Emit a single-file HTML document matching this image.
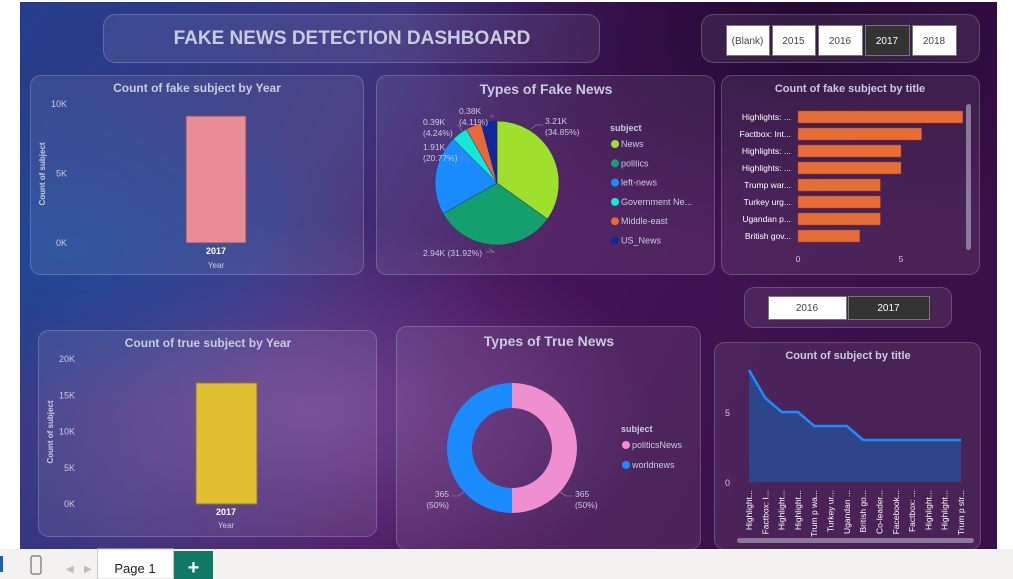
<!DOCTYPE html>
<html><head><meta charset="utf-8">
<style>
html,body{margin:0;padding:0;width:1013px;height:579px;overflow:hidden;background:#fff;font-family:"Liberation Sans",sans-serif;}
svg text{font-family:"Liberation Sans",sans-serif;}
</style></head>
<body>
<svg id="s" width="1013" height="579" viewBox="0 0 1013 579" xmlns="http://www.w3.org/2000/svg">
<defs>
<linearGradient id="bg" x1="0" y1="0" x2="1" y2="0.3">
<stop offset="0" stop-color="#243e8c"/><stop offset="0.35" stop-color="#3b3580"/><stop offset="0.6" stop-color="#45145a"/><stop offset="1" stop-color="#3a1048"/>
</linearGradient>
<radialGradient id="g1" cx="0.3" cy="0.75" r="0.35"><stop offset="0" stop-color="#7a4a9a" stop-opacity="0.8"/><stop offset="1" stop-color="#7a4a9a" stop-opacity="0"/></radialGradient>
<radialGradient id="g2" cx="0.8" cy="0.05" r="0.4"><stop offset="0" stop-color="#220833" stop-opacity="0.95"/><stop offset="1" stop-color="#220833" stop-opacity="0"/></radialGradient>
<radialGradient id="g3" cx="0.05" cy="0.45" r="0.3"><stop offset="0" stop-color="#1f4a9a" stop-opacity="0.9"/><stop offset="1" stop-color="#1f4a9a" stop-opacity="0"/></radialGradient>
</defs>
<rect x="20" y="2" width="977" height="547" fill="url(#bg)"/>
<rect x="20" y="2" width="977" height="547" fill="url(#g1)"/>
<rect x="20" y="2" width="977" height="547" fill="url(#g2)"/>
<rect x="20" y="2" width="977" height="547" fill="url(#g3)"/>
<g fill="rgba(255,255,255,0.08)" stroke="rgba(255,255,255,0.22)" stroke-width="1">
<rect x="103.5" y="14.5" width="496" height="48" rx="12"/>
<rect x="701.5" y="14.5" width="278" height="48" rx="12"/>
<rect x="30.5" y="75.5" width="333" height="199" rx="10"/>
<rect x="376.5" y="75.5" width="338" height="199" rx="10"/>
<rect x="721.5" y="75.5" width="258" height="199" rx="10"/>
<rect x="744.5" y="287.5" width="207" height="40" rx="10"/>
<rect x="38.5" y="330.5" width="338" height="206" rx="10"/>
<rect x="396.5" y="326.5" width="304" height="223" rx="10"/>
<rect x="714.5" y="342.5" width="266" height="207" rx="10"/>
</g>
<text x="352" y="44" text-anchor="middle" font-size="19" font-weight="bold" fill="#c9cbe0">FAKE NEWS DETECTION DASHBOARD</text>
<g id="sl1" font-size="10" text-anchor="middle"></g>
<g id="c1"></g><g id="c2"></g><g id="c3"></g><g id="c4"></g><g id="c5"></g><g id="c6"></g>
<rect x="0" y="549" width="1013" height="30" fill="#f3f2f1"/>
<rect x="0" y="556" width="3" height="16" fill="#1a5fb4"/>
<rect x="31" y="556" width="10" height="18" rx="2" fill="none" stroke="#555"/>
<text x="66" y="572" font-size="10" fill="#bbb">◀</text>
<text x="84" y="572" font-size="10" fill="#bbb">▶</text>
<rect x="97.5" y="549" width="76" height="30" fill="#fff" stroke="#ccc"/>
<text x="135" y="573" text-anchor="middle" font-size="13" fill="#222">Page 1</text>
<rect x="174" y="551" width="39" height="28" fill="#117865"/>
<text x="193.5" y="574" text-anchor="middle" font-size="20" font-weight="bold" fill="#fff">+</text>
</svg>
<script>
const NS="http://www.w3.org/2000/svg";
function mk(p,t,a,txt){const e=document.createElementNS(NS,t);for(const k in a)e.setAttribute(k,a[k]);if(txt!==undefined)e.textContent=txt;p.appendChild(e);return e;}
const W="#c9cbe0";
const years1=["(Blank)","2015","2016","2017","2018"];
const sel1="2017";
const years2=["2016","2017"];
const sel2="2017";
const sl=document.getElementById('sl1');
const bx1=[726,772,818,865,912],bw1=[43,43,44,44,44];
years1.forEach((y,i)=>{const on=y===sel1;
 const r=mk(sl,'rect',{x:bx1[i]+.5,y:25.5,width:bw1[i],height:30,fill:on?'#333':'#fff',stroke:'#777'});
 
 
 mk(sl,'text',{x:bx1[i]+bw1[i]/2,y:44,fill:on?'#fff':'#444'},y);});
const bx2=[768,848],bw2=[78,81];
years2.forEach((y,i)=>{const on=y===sel2;
 const r=mk(sl,'rect',{x:bx2[i]+.5,y:296.5,width:bw2[i],height:23,fill:on?'#333':'#fff',stroke:'#777'});
 
 
 mk(sl,'text',{x:bx2[i]+bw2[i]/2,y:311,fill:on?'#fff':'#444'},y);});

const fakeYears=["2017"];
const fakeCounts=[9140];
const fakeTicks=[0,5000,10000];
const fakeTickLabels=["0K","5K","10K"];
(function(){const g=document.getElementById('c1');
 mk(g,'text',{x:197,y:92,'text-anchor':'middle','font-size':12,'font-weight':'bold',fill:W},'Count of fake subject by Year');
 const y=v=>243-v/10000*139;
 fakeTicks.forEach((t,i)=>mk(g,'text',{x:67,y:y(t)+3,'text-anchor':'end','font-size':9,fill:W},fakeTickLabels[i]));
 mk(g,'text',{x:0,y:0,transform:'translate(45,174) rotate(-90)','text-anchor':'middle','font-size':8,'font-weight':'bold',fill:W},'Count of subject');
 fakeCounts.forEach((v,i)=>{const b=mk(g,'rect',{x:186,y:y(v),width:60,height:243-y(v),fill:'#e88d95',stroke:'#7a4a6a'});
  
  
  mk(g,'text',{x:216,y:254,'text-anchor':'middle','font-size':9,'font-weight':'bold',fill:'#fff'},fakeYears[i]);});
 mk(g,'text',{x:216,y:268,'text-anchor':'middle','font-size':8,fill:W},'Year');
})();

const pieLabels=["News","politics","left-news","Government Ne...","Middle-east","US_News"];
const pieValues=[3210,2940,1910,390,380,380];
const pieText=["3.21K\n(34.85%)","2.94K (31.92%)","1.91K\n(20.77%)","0.39K\n(4.24%)","0.38K\n(4.11%)",""];
const pieColors=["#9fe02e","#13a06e","#1a8cff","#12e8d8","#e8683a","#12289a"];
(function(){const g=document.getElementById('c2');
 mk(g,'text',{x:546,y:94,'text-anchor':'middle','font-size':14,'font-weight':'bold',fill:W},'Types of Fake News');
 const cx=497,cy=183,r=62;const tot=pieValues.reduce((a,b)=>a+b,0);let a0=-Math.PI/2;
 pieValues.forEach((v,i)=>{const a1=a0+v/tot*2*Math.PI;
  const p=`M${cx},${cy}L${cx+r*Math.cos(a0)},${cy+r*Math.sin(a0)}A${r},${r} 0 ${a1-a0>Math.PI?1:0} 1 ${cx+r*Math.cos(a1)},${cy+r*Math.sin(a1)}Z`;
  const s=mk(g,'path',{d:p,fill:pieColors[i],stroke:'#3a2060','stroke-width':0.5});
  
  
  a0=a1;});
 const lines=["M531,129 L536,125 L543,125","M489,249 L494,252 L486,252","M456,155 L470,161","M458,125 L463,132","M493,118 L493,116 L490,116"];
 lines.forEach(d=>mk(g,'path',{d:d,fill:'none',stroke:'#8a7a9a','stroke-width':0.8}));
 const lp=[[545,124],[423,256],[423,150],[423,125],[459,114]];
 pieText.forEach((t,i)=>{if(!t)return;const ls=t.split('\n');ls.forEach((l,j)=>mk(g,'text',{x:lp[i][0],y:lp[i][1]+j*11,'font-size':8.5,fill:W},l));});
 mk(g,'text',{x:610,y:131,'font-size':9,'font-weight':'bold',fill:W},'subject');
 pieLabels.forEach((l,i)=>{mk(g,'circle',{cx:615,cy:144+i*19.3,r:4,fill:pieColors[i]});
  mk(g,'text',{x:621,y:147+i*19.3,'font-size':9,fill:W},l);});
})();

const titleLabels=["Highlights: ...","Factbox: Int...","Highlights: ...","Highlights: ...","Trump war...","Turkey urg...","Ugandan p...","British gov..."];
const titleCounts=[8,6,5,5,4,4,4,3];
(function(){const g=document.getElementById('c3');
 mk(g,'text',{x:850,y:92,'text-anchor':'middle','font-size':11,'font-weight':'bold',fill:W},'Count of fake subject by title');
 const x=v=>798+v*20.6;
 titleLabels.forEach((l,i)=>{const yy=111+i*17;
  const b=mk(g,'rect',{x:798,y:yy,width:x(titleCounts[i])-798,height:12,fill:'#e86d35',stroke:'#a04030','stroke-width':0.5});
  
  
  mk(g,'text',{x:791,y:yy+9,'text-anchor':'end','font-size':8.5,fill:'#fff'},l);});
 [0,5].forEach(t=>mk(g,'text',{x:x(t),y:262,'text-anchor':'middle','font-size':8.5,fill:W},t));
 const sb=mk(g,'rect',{x:966,y:104,width:5,height:146,rx:2.5,fill:'#8a7a9a'});
 
 
})();

const trueYears=["2017"];
const trueCounts=[16700];
const trueTicks=[0,5000,10000,15000,20000];
const trueTickLabels=["0K","5K","10K","15K","20K"];
(function(){const g=document.getElementById('c4');
 mk(g,'text',{x:208,y:347,'text-anchor':'middle','font-size':12,'font-weight':'bold',fill:W},'Count of true subject by Year');
 const y=v=>504-v/20000*145;
 trueTicks.forEach((t,i)=>mk(g,'text',{x:75,y:y(t)+3,'text-anchor':'end','font-size':9,fill:W},trueTickLabels[i]));
 mk(g,'text',{x:0,y:0,transform:'translate(53,432) rotate(-90)','text-anchor':'middle','font-size':8,'font-weight':'bold',fill:W},'Count of subject');
 trueCounts.forEach((v,i)=>{const b=mk(g,'rect',{x:196,y:y(v),width:61,height:504-y(v),fill:'#e0c030',stroke:'#8a7040'});
  
  
  mk(g,'text',{x:226,y:515,'text-anchor':'middle','font-size':9,'font-weight':'bold',fill:'#fff'},trueYears[i]);});
 mk(g,'text',{x:226,y:528,'text-anchor':'middle','font-size':8,fill:W},'Year');
})();

const donutLabels=["politicsNews","worldnews"];
const donutValues=[365,365];
const donutColors=["#ef8fcf","#1a8cff"];
(function(){const g=document.getElementById('c5');
 mk(g,'text',{x:549,y:346,'text-anchor':'middle','font-size':14,'font-weight':'bold',fill:W},'Types of True News');
 const cx=512,cy=448,R=65,r=40;const tot=donutValues.reduce((a,b)=>a+b,0);let a0=-Math.PI/2;
 donutValues.forEach((v,i)=>{let a1=a0+v/tot*2*Math.PI;const L=a1-a0>Math.PI?1:0;
  const c=(rr,a)=>`${cx+rr*Math.cos(a)},${cy+rr*Math.sin(a)}`;
  const p=`M${c(R,a0)}A${R},${R} 0 ${L} 1 ${c(R,a1)}L${c(r,a1)}A${r},${r} 0 ${L} 0 ${c(r,a0)}Z`;
  const s=mk(g,'path',{d:p,fill:donutColors[i]});
  
  
  a0=a1;});
 mk(g,'path',{d:'M560,492 L566,496 L572,496',fill:'none',stroke:'#8a7a9a','stroke-width':0.8});
 mk(g,'path',{d:'M464,492 L458,496 L452,496',fill:'none',stroke:'#8a7a9a','stroke-width':0.8});
 mk(g,'text',{x:575,y:497,'font-size':8.5,fill:W},donutValues[0]);
 mk(g,'text',{x:575,y:508,'font-size':8.5,fill:W},'(50%)');
 mk(g,'text',{x:449,y:497,'font-size':8.5,'text-anchor':'end',fill:W},donutValues[1]);
 mk(g,'text',{x:449,y:508,'font-size':8.5,'text-anchor':'end',fill:W},'(50%)');
 mk(g,'text',{x:621,y:432,'font-size':9,'font-weight':'bold',fill:W},'subject');
 donutLabels.forEach((l,i)=>{mk(g,'circle',{cx:626,cy:445+i*20,r:4,fill:donutColors[i]});
  mk(g,'text',{x:632,y:448+i*20,'font-size':9,fill:W},l);});
})();

const lineLabels=["Highlight...","Factbox: I...","Highlight...","Highlight...","Trum p wa...","Turkey ur...","Ugandan ...","British go...","Co-leader...","Facebook...","Factbox: ...","Highlight...","Highlight...","Trum p str..."];
const lineCounts=[8,6,5,5,4,4,4,3,3,3,3,3,3,3];
(function(){const g=document.getElementById('c6');
 mk(g,'text',{x:848,y:359,'text-anchor':'middle','font-size':11,'font-weight':'bold',fill:W},'Count of subject by title');
 const x=i=>749+i*(212/(lineCounts.length-1)),y=v=>482-v*14;
 [0,5].forEach(t=>mk(g,'text',{x:730,y:y(t)+4,'text-anchor':'end','font-size':9,fill:W},t));
 const pts=lineCounts.map((v,i)=>x(i)+','+y(v));
 const a=mk(g,'path',{d:`M${x(0)},482L${pts.join('L')}L${x(lineCounts.length-1)},482Z`,fill:'#2a4a90',opacity:0.9});
 
 
 const l=mk(g,'polyline',{points:pts.join(' '),fill:'none',stroke:'#1a8cff','stroke-width':2.5});
 
 
 lineLabels.forEach((t,i)=>mk(g,'text',{x:0,y:0,transform:`translate(${x(i)+3},490) rotate(-90)`,'text-anchor':'end','font-size':8.5,fill:'#fff'},t));
 const sb=mk(g,'rect',{x:737,y:538,width:237,height:5,rx:2.5,fill:'#8a7a9a'});
 
 
})();
</script>
</body></html>
